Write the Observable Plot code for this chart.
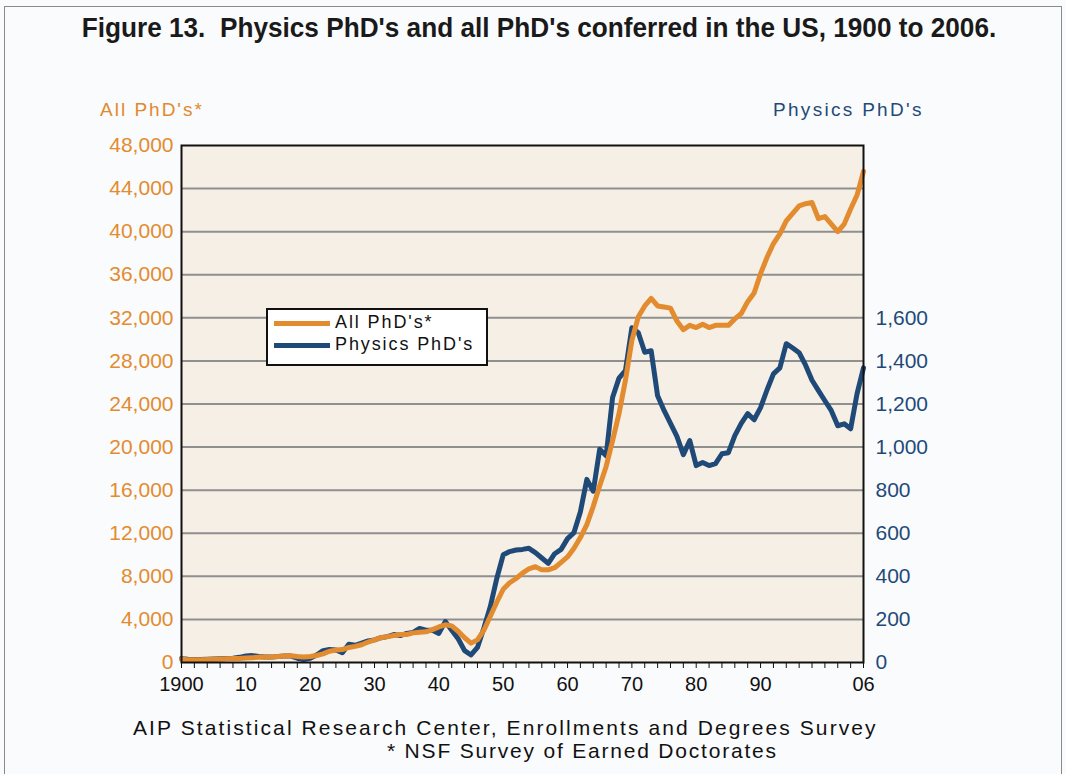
<!DOCTYPE html>
<html>
<head>
<meta charset="utf-8">
<script src="https://cdn.jsdelivr.net/npm/d3@7"></script>
<script src="https://cdn.jsdelivr.net/npm/@observablehq/plot@0.6"></script>
<style>
  html, body { margin: 0; padding: 0; background: #fafbfd; }
  body { width: 1066px; height: 774px; position: relative; overflow: hidden; font-family: "Liberation Sans", Arial, sans-serif; }
  #border { position: absolute; left: 4px; top: 6px; width: 1058px; height: 800px; border: 1.5px solid #8a8a8a; box-sizing: border-box; }
  .txt { position: absolute; white-space: nowrap; }
  #title { left: 6px; width: 1066px; text-align: center; top: 12px; font-size: 28px; font-weight: bold; color: #1a1a1a; transform: scaleX(0.935); }
  #ylabL { left: 100px; top: 99px; font-size: 19px; color: #e08a2e; letter-spacing: 2px; }
  #ylabR { left: 773px; top: 99px; font-size: 19px; color: #1f4a78; letter-spacing: 2.3px; }
  #cap1 { left: 133px; top: 716px; font-size: 21px; color: #111; letter-spacing: 2.1px; }
  #cap2 { left: 387px; top: 739px; font-size: 21px; color: #111; letter-spacing: 1.8px; }
  #chart { position: absolute; left: 0; top: 95px; }
  #legend { position: absolute; left: 266px; top: 308px; width: 222px; height: 58px; background: #fff; border: 2px solid #111; box-sizing: border-box; }
  .lg { position: absolute; left: 6px; width: 56px; height: 5px; }
  .lt { position: absolute; left: 67px; font-size: 18px; color: #111; letter-spacing: 1.9px; }
</style>
</head>
<body>
<div id="border"></div>
<div id="title" class="txt">Figure 13.&nbsp; Physics PhD's and all PhD's conferred in the US, 1900 to 2006.</div>
<div id="ylabL" class="txt">All PhD's*</div>
<div id="ylabR" class="txt">Physics PhD's</div>
<div id="chart"></div>
<div id="legend">
  <div class="lg" style="top:11px;background:#e38b2f"></div>
  <div class="lt" style="top:2px">All PhD's*</div>
  <div class="lg" style="top:33px;background:#1f4a78"></div>
  <div class="lt" style="top:24px">Physics PhD's</div>
</div>
<div id="cap1" class="txt">AIP Statistical Research Center, Enrollments and Degrees Survey</div>
<div id="cap2" class="txt">* NSF Survey of Earned Doctorates</div>
<script>
const years = d3.range(1900, 2007);
const allPhDs = [
  300, 250, 250, 260, 280, 300, 320, 340, 360, 380,
  420, 450, 480, 500, 520, 560, 600, 620, 560, 520,
  560, 650, 800, 1050, 1150, 1200, 1400, 1500, 1650, 1900,
  2100, 2300, 2400, 2500, 2600, 2600, 2750, 2800, 2850, 3050,
  3300, 3500, 3400, 2900, 2300, 1800, 2100, 3000, 4300, 5600,
  6800, 7400, 7800, 8300, 8700, 8900, 8600, 8600, 8800, 9300,
  9800, 10600, 11600, 12800, 14500, 16400, 18200, 20600, 23100, 26200,
  29900, 32100, 33100, 33800, 33100, 33000, 32900, 31700, 30900, 31300,
  31100, 31400, 31100, 31300, 31300, 31300, 31900, 32400, 33500, 34300,
  36100, 37600, 38900, 39800, 41000, 41700, 42400, 42600, 42700, 41200,
  41400, 40700, 40000, 40700, 42100, 43400, 45600
];
const physicsPhDs = [
  18, 15, 14, 14, 15, 16, 17, 18, 20, 24,
  30, 32, 28, 26, 25, 28, 30, 30, 20, 14,
  20, 35, 55, 60, 58, 45, 85, 80, 90, 100,
  105, 115, 120, 130, 125, 135, 140, 158, 150, 150,
  135, 190, 150, 110, 55, 35, 70, 160, 260, 390,
  500, 515, 522, 525, 530, 510, 485, 460, 505, 525,
  575, 603, 700, 850, 795, 990, 960, 1230, 1320, 1355,
  1554, 1531, 1440, 1447, 1238, 1170, 1110, 1050, 965, 1030,
  914, 928, 914, 923, 969, 974, 1053, 1110, 1155, 1127,
  1183, 1265, 1340, 1368, 1480, 1460, 1438, 1380, 1310, 1262,
  1215, 1169, 1099, 1108, 1085, 1248, 1368
];
const leftTicks = d3.range(0, 48001, 4000);
const rightTicks = d3.range(0, 32001, 4000);
const xTicks = d3.range(1900, 2007, 2);
const xLabel = {1900: "1900", 1910: "10", 1920: "20", 1930: "30", 1940: "40", 1950: "50", 1960: "60", 1970: "70", 1980: "80", 1990: "90", 2006: "06"};
const RATIO = 20;

const allData = years.map((y, i) => ({year: y, value: allPhDs[i]}));
const physData = years.map((y, i) => ({year: y, value: physicsPhDs[i] * RATIO}));

const orange = "#e38b2f", navy = "#1f4a78";

const chart = Plot.plot({
  width: 1066,
  height: 620,
  marginLeft: 181,
  marginRight: 203,
  marginTop: 50,
  marginBottom: 53,
  style: {fontFamily: "'Liberation Sans', Arial, sans-serif", fontSize: "20px", background: "transparent", overflow: "visible"},
  x: {domain: [1900, 2006]},
  y: {domain: [0, 48000]},
  marks: [
    Plot.frame({fill: "#f6efe5", stroke: null}),
    Plot.ruleY(leftTicks.slice(1, -1), {stroke: "#8f8f8f", strokeWidth: 2}),
    Plot.line(physData, {x: "year", y: "value", stroke: navy, strokeWidth: 5, strokeLinejoin: "round"}),
    Plot.line(allData, {x: "year", y: "value", stroke: orange, strokeWidth: 5, strokeLinejoin: "round"}),
    Plot.frame({stroke: "#111", strokeWidth: 2}),
    Plot.axisY(leftTicks, {anchor: "left", tickSize: 0, tickPadding: 8, tickFormat: d3.format(","), fill: orange, fontSize: 21, letterSpacing: 3, label: null}),
    Plot.axisY(rightTicks, {anchor: "right", tickSize: 0, tickPadding: 12, tickFormat: d => d3.format(",")(d / RATIO), fill: navy, fontSize: 21, letterSpacing: 3.5, label: null}),
    Plot.axisX(xTicks, {anchor: "bottom", tickSize: 6, tickPadding: 8, tickFormat: d => xLabel[d] || "", fill: "#111", fontSize: 20, letterSpacing: 2, label: null, stroke: "#111"})
  ]
});
document.getElementById("chart").appendChild(chart);
</script>
</body>
</html>
